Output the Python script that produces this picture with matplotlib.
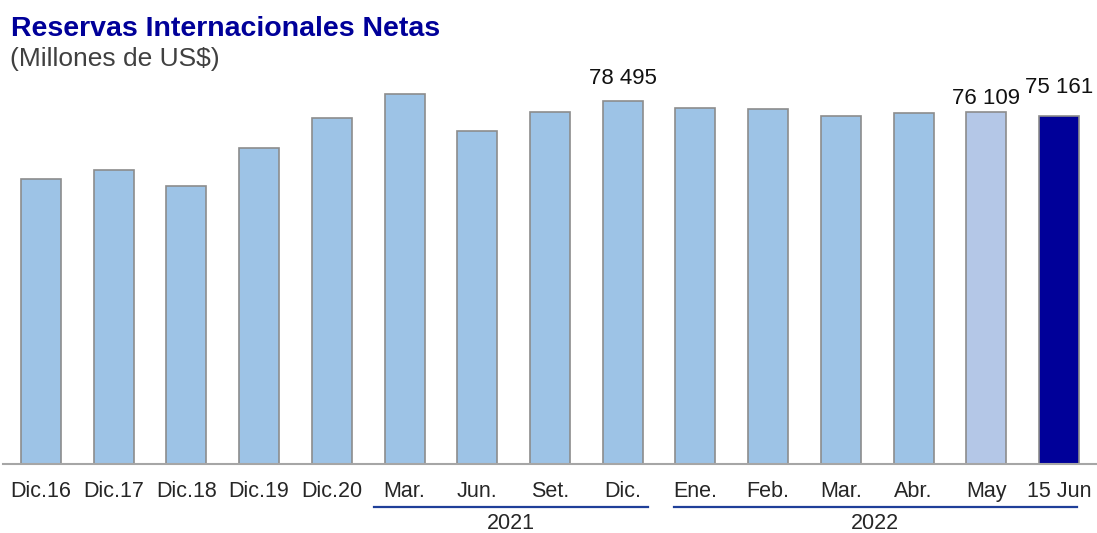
import matplotlib
matplotlib.use("Agg")
import matplotlib.pyplot as plt

plt.rcParams['font.family'] = ['Liberation Sans', 'DejaVu Sans']

# datos (millones de US$)
categorias = ["Dic.16", "Dic.17", "Dic.18", "Dic.19", "Dic.20",
              "Mar.", "Jun.", "Set.", "Dic.",
              "Ene.", "Feb.", "Mar.", "Abr.", "May", "15 Jun"]
reservas = [61686, 63621, 60121, 68316, 74707,
            79922, 71892, 76024, 78495,
            76980, 76700, 75250, 75900, 76109, 75161]
etiquetas = {8: "78 495", 13: "76 109", 14: "75 161"}
anios = ["2021", "2022"]

colores = ['#9DC3E6'] * 13 + ['#B4C7E7', '#000099']

fig = plt.figure(figsize=(10.97, 5.33), dpi=100)
ax = fig.add_axes([3 / 1097, 69 / 533, 1094 / 1097, 393.4 / 533])

x = list(range(len(categorias)))
ax.bar(x, reservas, width=0.55, color=colores, edgecolor='#8C8C8C', linewidth=1.2, zorder=2)

ax.set_xlim(-0.52, 14.52)
ax.set_ylim(0, 85000)
ax.set_yticks([])
for s in ['top', 'right', 'left']:
    ax.spines[s].set_visible(False)
ax.spines['bottom'].set_color('#A6A6A6')
ax.spines['bottom'].set_linewidth(1.5)

ax.set_xticks(x)
ax.set_xticklabels(categorias, fontsize=15.5, color='#262626')
ax.tick_params(axis='x', length=0, pad=12)

# etiquetas de valor (desplazamiento en puntos)
offsets = {8: 12.2, 13: 5.8, 14: 16.3}
for i, txt in etiquetas.items():
    ax.annotate(txt, (i, reservas[i]), xytext=(0, offsets[i]), textcoords='offset points',
                ha='center', va='baseline', fontsize=16, color='#111111')

# llaves de años
tr = ax.get_xaxis_transform()
tramos = [(4.58, 8.35), (8.70, 14.24)]
for (a, b), anio in zip(tramos, anios):
    ax.plot([a, b], [-0.1085, -0.1085], transform=tr, color='#1F3F99', lw=1.6, clip_on=False)
    ax.text((a + b) / 2, -0.151, anio, transform=tr, ha='center', va='center',
            fontsize=15.5, color='#262626', clip_on=False)

fig.text(11 / 1097, 1 - 36.5 / 533, "Reservas Internacionales Netas", fontsize=20.5,
         fontweight='bold', color='#000099', ha='left', va='baseline')
fig.text(10 / 1097, 1 - 66 / 533, "(Millones de US$)", fontsize=19,
         color='#404040', ha='left', va='baseline')

fig.savefig("out.png", dpi=100)
